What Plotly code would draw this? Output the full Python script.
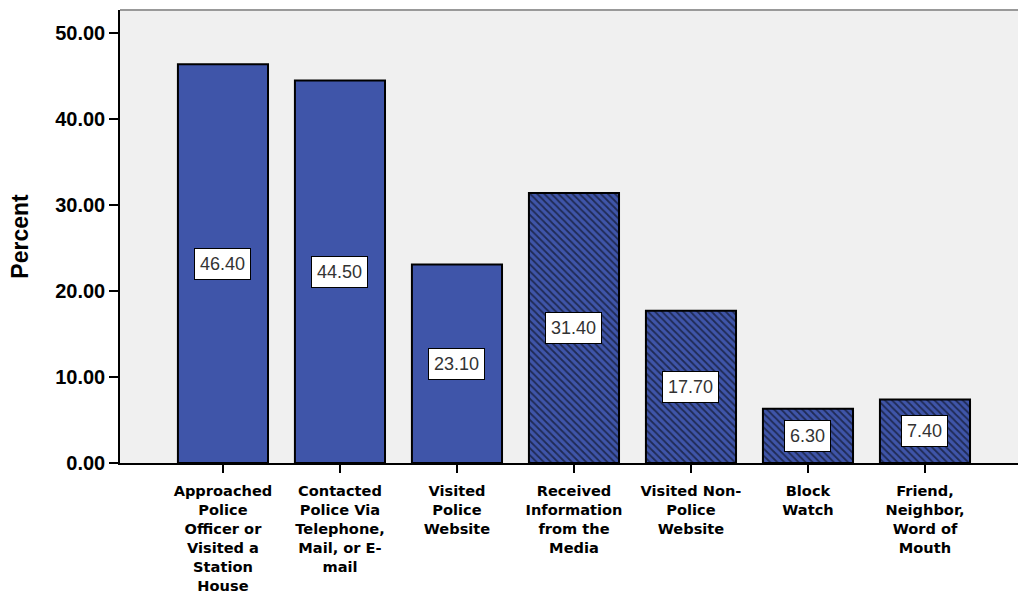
import plotly.graph_objects as go

categories = [
    "Approached<br>Police<br>Officer or<br>Visited a<br>Station<br>House",
    "Contacted<br>Police Via<br>Telephone,<br>Mail, or E-<br>mail",
    "Visited<br>Police<br>Website",
    "Received<br>Information<br>from the<br>Media",
    "Visited Non-<br>Police<br>Website",
    "Block<br>Watch",
    "Friend,<br>Neighbor,<br>Word of<br>Mouth",
]
values = [46.40, 44.50, 23.10, 31.40, 17.70, 6.30, 7.40]
hatched = [False, False, False, True, True, True, True]
y_ticks = [0, 10, 20, 30, 40, 50]

BLUE = "#3F55A9"
xs = list(range(len(categories)))

fig = go.Figure()
fig.add_trace(go.Bar(
    x=xs,
    y=values,
    width=0.77,
    marker=dict(
        color=BLUE,
        line=dict(color="black", width=2),
        pattern=dict(
            shape=["\\" if h else "" for h in hatched],
            fgcolor="black",
            bgcolor=BLUE,
            size=5,
            solidity=0.35,
        ),
    ),
    hoverinfo="skip",
))

for x, v in zip(xs, values):
    fig.add_annotation(
        x=x, y=v / 2, text=f"{v:.2f}", showarrow=False,
        bgcolor="white", bordercolor="black", borderwidth=1, borderpad=5,
        font=dict(family="Liberation Sans, Arial", size=18, color="#333333"),
    )

# top frame line
fig.add_shape(type="line", xref="paper", yref="paper", x0=0, x1=1, y0=1, y1=1,
              line=dict(color="#999999", width=2), layer="below")

fig.update_layout(
    width=1018, height=596,
    margin=dict(l=120, r=0, t=10, b=133),
    paper_bgcolor="white",
    plot_bgcolor="#F0F0F0",
    showlegend=False,
)
fig.update_xaxes(
    range=[-0.88, 6.795],
    tickmode="array", tickvals=xs, ticktext=categories,
    ticks="outside", ticklen=8, tickwidth=1.5, tickcolor="black",
    ticklabelstandoff=6,
    showline=True, linecolor="black", linewidth=1.5,
    showgrid=False, zeroline=False,
    tickangle=0,
    tickfont=dict(family="DejaVu Sans", size=14.6, color="black", weight="bold"),
)
fig.update_yaxes(
    range=[0, 52.7],
    tickmode="array", tickvals=y_ticks, ticktext=[f"{t:.2f}" for t in y_ticks],
    ticks="outside", ticklen=9, tickwidth=1.5, tickcolor="black",
    showline=True, linecolor="black", linewidth=1.5,
    showgrid=False, zeroline=False,
    tickfont=dict(family="Liberation Sans, Arial", size=20, color="black", weight="bold"),
    title=dict(text="Percent", font=dict(family="Liberation Sans, Arial", size=23, color="black", weight="bold"), standoff=20),
)

fig.write_html(
    "out.html",
    config={"displayModeBar": False},
    post_script="document.body.style.margin='0';document.body.style.overflow='hidden';",
)
